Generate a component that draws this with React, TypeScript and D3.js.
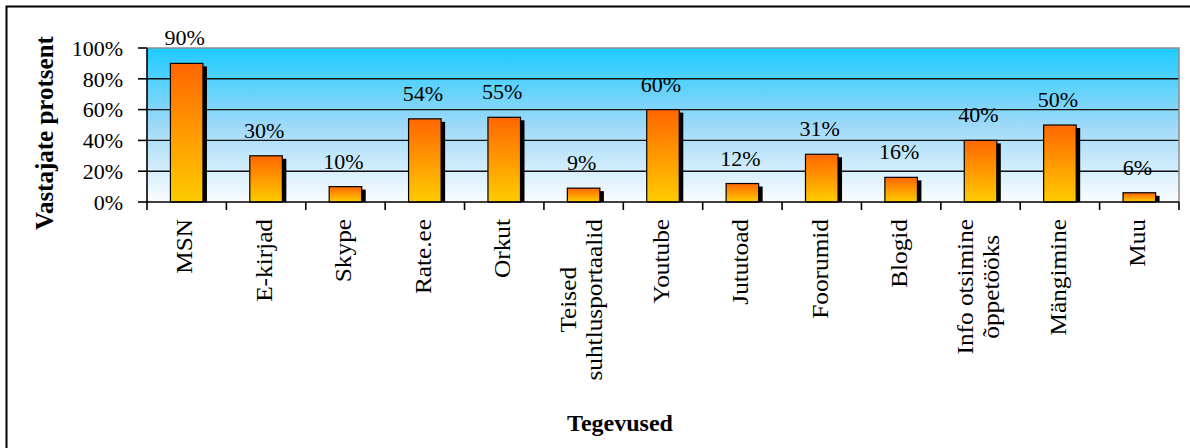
import React, { useRef, useEffect } from "react";
import * as d3 from "d3";

const categories = [
  "MSN",
  "E-kirjad",
  "Skype",
  "Rate.ee",
  "Orkut",
  "Teised\nsuhtlusportaalid",
  "Youtube",
  "Jututoad",
  "Foorumid",
  "Blogid",
  "Info otsimine\nõppetööks",
  "Mängimine",
  "Muu",
];
const values = [90, 30, 10, 54, 55, 9, 60, 12, 31, 16, 40, 50, 6];
const yTicks = [0, 20, 40, 60, 80, 100];

const FONT = "'Times New Roman', 'Liberation Serif', serif";

export default function App() {
  const svgRef = useRef<SVGSVGElement>(null);

  useEffect(() => {
    if (!svgRef.current) return;
    const svg = d3.select(svgRef.current);
    svg.selectAll("*").remove();

    const left = 147;
    const right = 1179;
    const top = 48;
    const bottom = 202;

    const x = d3.scaleBand().domain(categories).range([left, right]).padding(0);
    const y = d3.scaleLinear().domain([0, 100]).range([bottom, top]);
    const barW = x.bandwidth() * 0.41;

    const defs = svg.append("defs");
    const bg = defs
      .append("linearGradient")
      .attr("id", "plotBg")
      .attr("x1", 0)
      .attr("y1", 0)
      .attr("x2", 0)
      .attr("y2", 1);
    bg.append("stop").attr("offset", 0).attr("stop-color", "#1ccbff");
    bg.append("stop").attr("offset", 0.5).attr("stop-color", "#9ed9f8");
    bg.append("stop").attr("offset", 1).attr("stop-color", "#fbfdff");

    const barGrad = defs
      .append("linearGradient")
      .attr("id", "barFill")
      .attr("x1", 0)
      .attr("y1", 0)
      .attr("x2", 0)
      .attr("y2", 1);
    barGrad.append("stop").attr("offset", 0).attr("stop-color", "#ff6600");
    barGrad.append("stop").attr("offset", 1).attr("stop-color", "#ffcc00");

    // outer chart frame (runs past the right and bottom edges)
    svg
      .append("rect")
      .attr("x", 6.5)
      .attr("y", 6.5)
      .attr("width", 1300)
      .attr("height", 600)
      .attr("fill", "#fff")
      .attr("stroke", "#000")
      .attr("stroke-width", 2);

    // plot background
    svg
      .append("rect")
      .attr("x", left)
      .attr("y", top)
      .attr("width", right - left)
      .attr("height", bottom - top)
      .attr("fill", "url(#plotBg)");

    // gridlines
    svg
      .append("g")
      .selectAll("line")
      .data(yTicks.filter((t) => t > 0 && t < 100))
      .enter()
      .append("line")
      .attr("x1", left)
      .attr("x2", right)
      .attr("y1", (d) => y(d))
      .attr("y2", (d) => y(d))
      .attr("stroke", "#111")
      .attr("stroke-width", 1.4);

    // plot border top / right
    svg
      .append("path")
      .attr("d", `M${left},${y(100)}H${right}V${bottom}`)
      .attr("fill", "none")
      .attr("stroke", "#8c8c8c")
      .attr("stroke-width", 1.5);

    const bars = svg.append("g");
    // shadows
    bars
      .selectAll(".shadow")
      .data(values)
      .enter()
      .append("rect")
      .attr("x", (d, i) => (x(categories[i]) || 0) + (x.bandwidth() - barW) / 2 + 4)
      .attr("y", (d) => y(d) + 3)
      .attr("width", barW)
      .attr("height", (d) => Math.max(0, bottom - y(d) - 3))
      .attr("fill", "#000");
    // bars
    bars
      .selectAll(".bar")
      .data(values)
      .enter()
      .append("rect")
      .attr("x", (d, i) => (x(categories[i]) || 0) + (x.bandwidth() - barW) / 2)
      .attr("y", (d) => y(d))
      .attr("width", barW)
      .attr("height", (d) => bottom - y(d))
      .attr("fill", "url(#barFill)")
      .attr("stroke", "#000")
      .attr("stroke-width", 1.2);

    // axes
    const axes = svg.append("g").attr("stroke", "#000").attr("stroke-width", 1.6);
    axes.append("line").attr("x1", left).attr("x2", left).attr("y1", top).attr("y2", bottom);
    axes.append("line").attr("x1", left).attr("x2", right).attr("y1", bottom).attr("y2", bottom);
    axes
      .selectAll(".yt")
      .data(yTicks)
      .enter()
      .append("line")
      .attr("x1", left - 9)
      .attr("x2", left)
      .attr("y1", (d) => y(d))
      .attr("y2", (d) => y(d));
    const bounds = categories.map((c) => x(c) || 0).concat([right]);
    axes
      .selectAll(".xt")
      .data(bounds)
      .enter()
      .append("line")
      .attr("x1", (d) => d)
      .attr("x2", (d) => d)
      .attr("y1", bottom)
      .attr("y2", bottom + 8);

    // y tick labels
    svg
      .append("g")
      .selectAll("text")
      .data(yTicks)
      .enter()
      .append("text")
      .attr("x", 123)
      .attr("y", (d) => y(d))
      .attr("dy", "0.35em")
      .attr("text-anchor", "end")
      .attr("font-family", FONT)
      .attr("font-size", 22)
      .text((d) => `${d}%`);

    // data labels
    svg
      .append("g")
      .selectAll("text")
      .data(values)
      .enter()
      .append("text")
      .attr("x", (d, i) => (x(categories[i]) || 0) + x.bandwidth() / 2 - 2)
      .attr("y", (d) => y(d) - 18)
      .attr("text-anchor", "middle")
      .attr("font-family", FONT)
      .attr("font-size", 22)
      .text((d) => `${d}%`);

    // category labels, rotated, lines centred on each other
    const lineH = 26;
    categories.forEach((c) => {
      const lines = c.split("\n");
      const cx = (x(c) || 0) + x.bandwidth() / 2;
      const g = svg
        .append("g")
        .attr("transform", `translate(${cx},219) rotate(-90) scale(1.1,1)`);
      const texts = lines.map((ln, j) =>
        g
          .append("text")
          .attr("x", 0)
          .attr("y", (j - (lines.length - 1) / 2) * lineH)
          .attr("dy", "0.25em")
          .attr("text-anchor", "end")
          .attr("font-family", FONT)
          .attr("font-size", 23)
          .text(ln)
      );
      const lens = texts.map((t) => (t.node() as SVGTextElement).getComputedTextLength());
      const maxLen = Math.max(...lens);
      texts.forEach((t, j) => t.attr("x", -(maxLen - lens[j]) / 2));
    });

    // axis titles
    svg
      .append("text")
      .attr("transform", `translate(53,133) rotate(-90)`)
      .attr("text-anchor", "middle")
      .attr("font-family", FONT)
      .attr("font-weight", "bold")
      .attr("font-size", 25)
      .text("Vastajate protsent");

    svg
      .append("text")
      .attr("x", 620)
      .attr("y", 431)
      .attr("text-anchor", "middle")
      .attr("font-family", FONT)
      .attr("font-weight", "bold")
      .attr("font-size", 24)
      .text("Tegevused");
  }, []);

  return (
    <svg
      ref={svgRef}
      width={1190}
      height={448}
      style={{ position: "absolute", left: 0, top: 0, background: "#fff" }}
    />
  );
}
